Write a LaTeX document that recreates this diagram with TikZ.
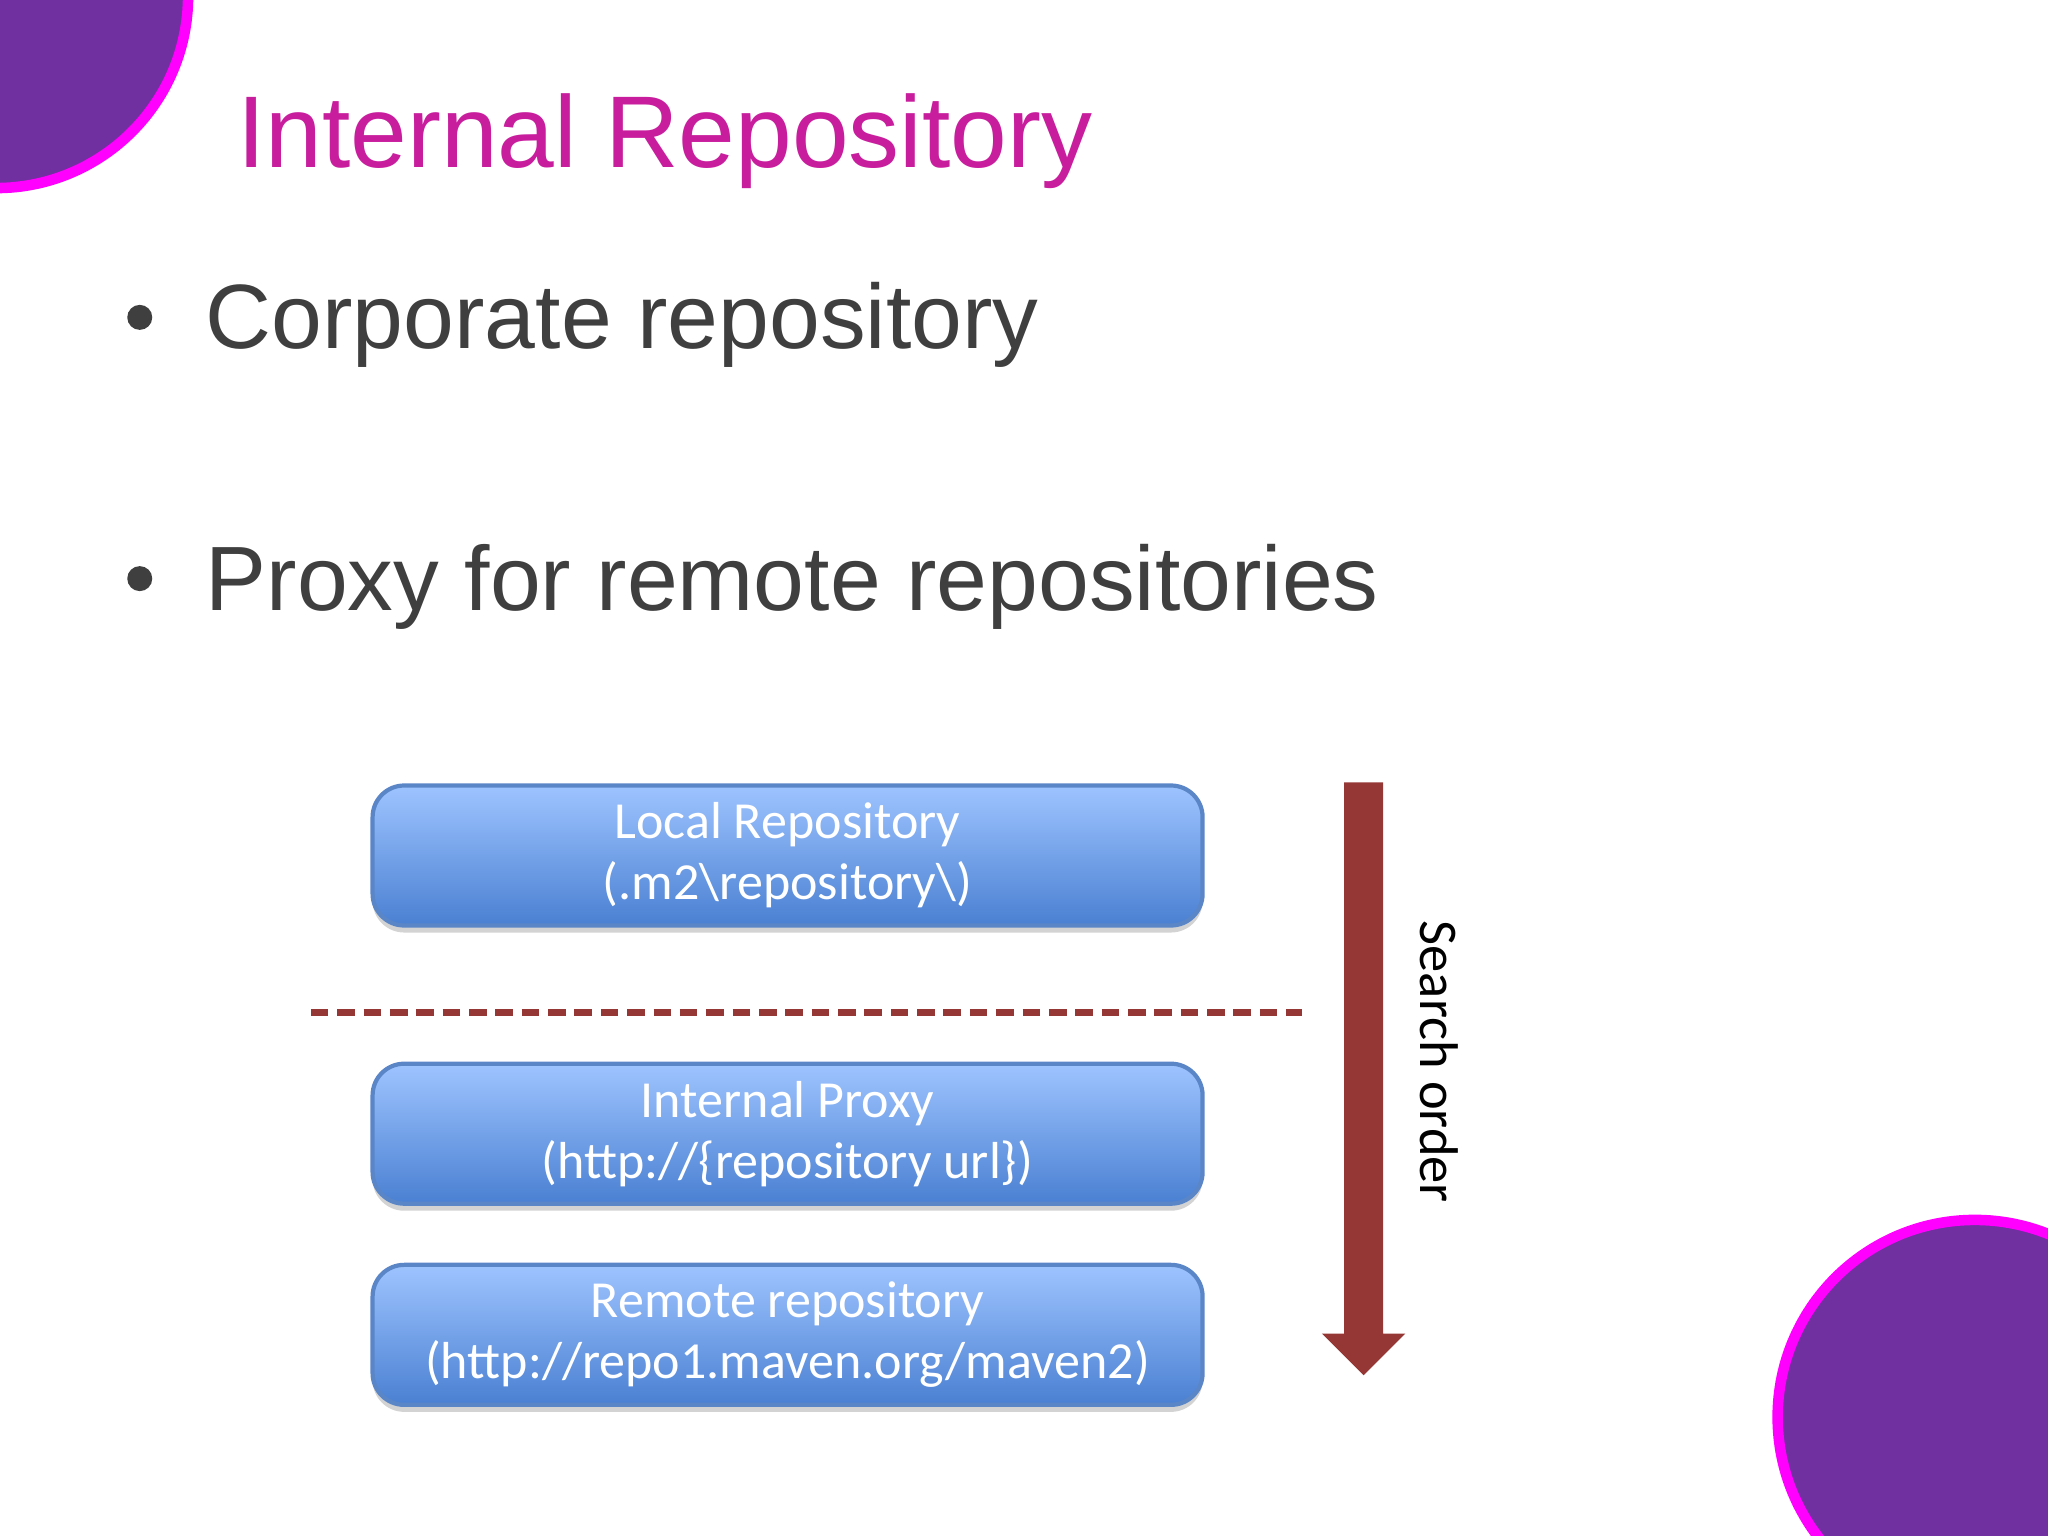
\documentclass[tikz,border=0pt]{standalone}
\usepackage{fontspec}
\setmainfont{Liberation Sans}
\newfontfamily\boxfont{Carlito}
\usetikzlibrary{shadows}
\definecolor{titlemag}{HTML}{C81E9E}
\definecolor{bodygray}{HTML}{3F3F3F}
\definecolor{blobviolet}{HTML}{7030A0}
\definecolor{blobrim}{HTML}{FF00FF}
\definecolor{darkred}{HTML}{953735}
\definecolor{boxtop}{HTML}{9EC4FF}
\definecolor{boxbot}{HTML}{4A80D2}
\definecolor{boxrim}{HTML}{5A86C8}
\tikzset{
  repobox/.style={draw=boxrim, line width=1.2pt, rounded corners=9pt,
    top color=boxtop, bottom color=boxbot, minimum width=8.3cm, minimum height=1.4cm,
    inner sep=2pt, text=white, align=center, font=\boxfont\fontsize{14.8}{17.4}\selectfont,
    drop shadow={shadow xshift=0pt, shadow yshift=-2pt, opacity=0.35}},
  bullet/.style={anchor=west, text=bodygray, font=\fontsize{26}{30}\selectfont},
  dot/.style={circle, fill=bodygray, inner sep=0pt, minimum size=0.25cm}
}
\begin{document}
\begin{tikzpicture}[x=0.01306cm, y=-0.01306cm]
\useasboundingbox (0,0) rectangle (1568,1176);
\clip (0,0) rectangle (1568,1176);
% corner blobs
\fill[blobviolet, draw=blobrim, line width=3pt] (-3,-3) circle (147);
\fill[blobviolet, draw=blobrim, line width=3pt] (1512,1085) circle (151);
% title and bullets
\node[anchor=west, text=titlemag, font=\fontsize{29}{34}\selectfont] (title) at (172,108) {Internal Repository};
\node[bullet] (b1) at (148,249) {Corporate repository};
\node[bullet] (b2) at (148,449) {Proxy for remote repositories};
\node[dot] (d1) at (107,243) {};
\node[dot] (d2) at (107,443) {};
% boxes
\node[repobox] (local) at (603,655) {Local Repository\\(.m2\textbackslash repository\textbackslash)};
\node[repobox] (proxy) at (603,868) {Internal Proxy\\(http://\{repository url\})};
\node[repobox] (remote) at (603,1022) {Remote repository\\(http://repo1.maven.org/maven2)};
\coordinate (dashL) at (238,775);
\coordinate (dashR) at (997,775);
\draw[darkred, line width=2pt, dash pattern=on 5pt off 2.5pt] (dashL) -- (dashR);
% search arrow
\fill[darkred] (1029,599) -- (1059,599) -- (1059,1021) -- (1076,1021) -- (1044,1053)
  -- (1012,1021) -- (1029,1021) -- cycle;
\node[rotate=-90, font=\boxfont\fontsize{15.5}{18}\selectfont] (order) at (1102,813) {Search order};
\end{tikzpicture}
\end{document}
